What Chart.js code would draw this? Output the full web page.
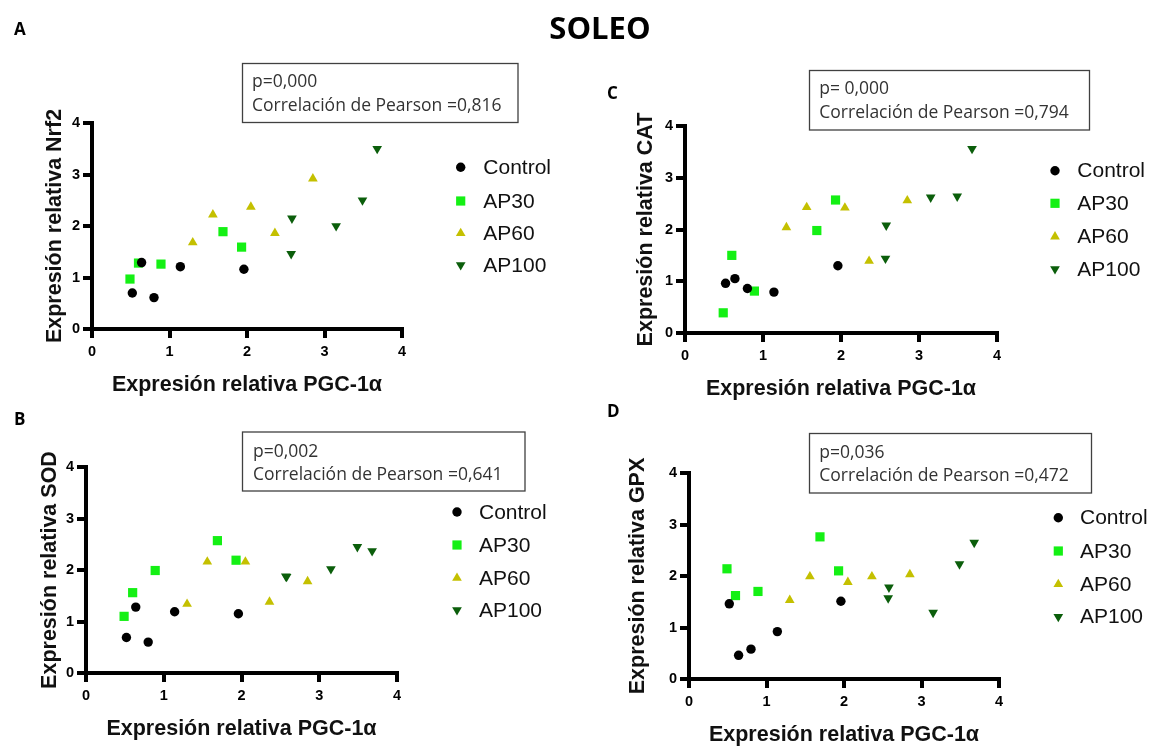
<!DOCTYPE html>
<html><head><meta charset="utf-8">
<script src="https://cdn.jsdelivr.net/npm/chart.js@4.4.1/dist/chart.umd.min.js"></script>
<style>
html,body{margin:0;padding:0;background:#fff;}
#page{position:relative;width:1152px;height:747px;overflow:hidden;background:#fff;}
canvas{position:absolute;}
svg{position:absolute;left:0;top:0;pointer-events:none;}
.box text{font-family:'Open Sans',sans-serif;font-size:17.5px;fill:#333;}
</style></head><body>
<div id="page">
<canvas id="cA"></canvas>
<canvas id="cB"></canvas>
<canvas id="cC"></canvas>
<canvas id="cD"></canvas>
<svg width="1152" height="747" xmlns="http://www.w3.org/2000/svg">
  <text x="600" y="39" text-anchor="middle" font-family="Open Sans" font-weight="700" font-size="31" fill="#000">SOLEO</text>
  <g font-family="Open Sans" font-weight="700" font-size="17" fill="#000">
    <text x="14" y="35">A</text>
    <text x="14" y="425">B</text>
    <text x="607" y="99">C</text>
    <text x="607" y="417">D</text>
  </g>
  <g class="box" fill="none" stroke="#404040" stroke-width="1.3">
    <rect x="242.5" y="63.5" width="275.5" height="59"/>
    <rect x="242.5" y="432" width="282.5" height="59"/>
    <rect x="809.5" y="70.5" width="280" height="59.5"/>
    <rect x="809.5" y="433.5" width="282" height="59.5"/>
  </g>
  <g class="box">
    <text x="252" y="87.3">p=0,000</text>
    <text x="252" y="111.3">Correlación de Pearson =0,816</text>
    <text x="253" y="456.5">p=0,002</text>
    <text x="253" y="479.5">Correlación de Pearson =0,641</text>
    <text x="819.3" y="94.3">p= 0,000</text>
    <text x="819.3" y="117.5">Correlación de Pearson =0,794</text>
    <text x="819.3" y="457.5">p=0,036</text>
    <text x="819.3" y="480.7">Correlación de Pearson =0,472</text>
  </g>
</svg>
</div>
<script>
// ---- data ----
const groups = ['Control', 'AP30', 'AP60', 'AP100'];
const xTicks = [0, 1, 2, 3, 4];
const yTicks = [0, 1, 2, 3, 4];
const xTitle = 'Expresión relativa PGC-1\u03B1';

// PGC-1α relative expression (x) per group
const pgcControl = [0.52, 0.64, 0.80, 1.14, 1.96];
const pgcAP30    = [0.49, 0.60, 0.89, 1.69, 1.93];
const pgcAP60    = [1.30, 1.56, 2.05, 2.36, 2.85];
const pgcAP100   = [2.58, 2.57, 3.15, 3.49, 3.68];

// A: Nrf2
const nrf2Control = [0.70, 1.29, 0.61, 1.21, 1.16];
const nrf2AP30    = [0.97, 1.28, 1.26, 1.89, 1.59];
const nrf2AP60    = [1.68, 2.22, 2.37, 1.86, 2.92];
const nrf2AP100   = [2.15, 1.46, 2.00, 2.50, 3.50];
// C: CAT
const catControl = [0.96, 1.05, 0.86, 0.79, 1.30];
const catAP30    = [0.39, 1.50, 0.81, 1.98, 2.57];
const catAP60    = [2.04, 2.43, 2.42, 1.39, 2.56];
const catAP100   = [2.08, 1.44, 2.62, 2.64, 3.56];
// B: SOD
const sodControl = [0.69, 1.28, 0.60, 1.19, 1.15];
const sodAP30    = [1.10, 1.56, 1.99, 2.57, 2.19];
const sodAP60    = [1.34, 2.16, 2.16, 1.38, 1.78];
const sodAP100   = [1.87, 1.88, 2.02, 2.45, 2.37];
// D: GPX
const gpxControl = [1.46, 0.46, 0.58, 0.92, 1.51];
const gpxAP30    = [2.14, 1.62, 1.70, 2.76, 2.10];
const gpxAP60    = [1.53, 1.99, 1.88, 1.99, 2.03];
const gpxAP100   = [1.78, 1.57, 1.29, 2.23, 2.65];

// ---- styles ----
const groupStyle = [
  {color: '#000000', pointStyle: 'circle',   radius: 4.7, rotation: 0},
  {color: '#14F014', pointStyle: 'rect',     radius: 6.5, rotation: 0},
  {color: '#C4C000', pointStyle: 'triangle', radius: 5.6, rotation: 0},
  {color: '#0B5E0B', pointStyle: 'triangle', radius: 5.6, rotation: 180}
];
const pgcX = [pgcControl, pgcAP30, pgcAP60, pgcAP100];

Chart.defaults.font.family = "'Liberation Sans', Arial, sans-serif";
Chart.defaults.color = '#000';

const legendPlugin = {
  id: 'customLegend',
  afterDraw(chart, args, opts) {
    const ctx = chart.ctx;
    ctx.save();
    chart.data.datasets.forEach((ds, i) => {
      const x = opts.mx - opts.ox, y = opts.rows[i] - opts.oy;
      ctx.fillStyle = ds.backgroundColor;
      ctx.strokeStyle = ds.backgroundColor;
      Chart.helpers.drawPoint(ctx, {pointStyle: ds.pointStyle, radius: ds.pointRadius, rotation: ds.pointRotation || 0, borderWidth: 0}, x, y);
      ctx.fillStyle = '#111';
      ctx.font = "21px 'Liberation Sans', Arial, sans-serif";
      ctx.textBaseline = 'middle';
      ctx.textAlign = 'left';
      ctx.fillText(ds.label, opts.tx - opts.ox, y + 1);
    });
    ctx.restore();
  }
};

const YW = 70, XH = 75, PT = 40, TFS = 21.5;

function makePanel(id, area, yTitle, yTitleX, ySeries, legend) {
  const cv = document.getElementById(id);
  const left = area.l - YW, top = area.t - PT;
  const width = Math.round(legend.tx + 80 - left);
  const height = area.b - top + XH;
  cv.width = width; cv.height = height;
  cv.style.left = left + 'px'; cv.style.top = top + 'px';
  cv.style.width = width + 'px'; cv.style.height = height + 'px';
  const half = TFS * 1.2 / 2;
  const datasets = groups.map((g, i) => ({
    label: g,
    data: pgcX[i].map((x, j) => ({x: x, y: ySeries[i][j]})),
    backgroundColor: groupStyle[i].color,
    borderColor: groupStyle[i].color,
    pointStyle: groupStyle[i].pointStyle,
    pointRadius: groupStyle[i].radius,
    pointRotation: groupStyle[i].rotation,
    pointBorderWidth: 0,
    pointHoverRadius: groupStyle[i].radius
  }));
  const axisCommon = {
    type: 'linear', min: 0, max: 4,
    border: {display: true, color: '#000', width: 4},
    grid: {display: true, drawOnChartArea: false, drawTicks: true, tickLength: 9, lineWidth: 4, color: '#000'}
  };
  return new Chart(cv, {
    type: 'scatter',
    data: {datasets},
    options: {
      responsive: false, animation: false, devicePixelRatio: 1,
      layout: {padding: {left: 0, top: PT, right: width - (area.r - left), bottom: 0}},
      plugins: {
        legend: {display: false}, tooltip: {enabled: false},
        customLegend: {mx: legend.mx, tx: legend.tx, rows: legend.rows, ox: left, oy: top}
      },
      scales: {
        x: Object.assign({}, axisCommon, {
          position: 'bottom',
          afterBuildTicks: s => { s.ticks = xTicks.map(v => ({value: v})); },
          ticks: {padding: 5, color: '#000', font: {size: 14.5, weight: 'bold'}},
          title: {display: true, text: xTitle, color: '#111', font: {size: TFS, weight: 'bold'}, padding: {top: 0, bottom: (XH - 56) - half}},
          afterFit: s => { s.height = XH; }
        }),
        y: Object.assign({}, axisCommon, {
          position: 'left',
          afterBuildTicks: s => { s.ticks = yTicks.map(v => ({value: v})); },
          ticks: {padding: 3, color: '#000', font: {size: 14.5, weight: 'bold'}},
          title: {display: true, text: yTitle, color: '#111', font: {size: TFS, weight: 'bold'}, padding: {top: yTitleX - left - half, bottom: 0}},
          afterFit: s => { s.width = YW; }
        })
      }
    },
    plugins: [legendPlugin]
  });
}

makePanel('cA', {l: 92, r: 402, t: 123, b: 329}, 'Expresión relativa Nrf2', 55,
  [nrf2Control, nrf2AP30, nrf2AP60, nrf2AP100],
  {mx: 460.7, tx: 483.3, rows: [167.3, 201, 233.3, 265]});
makePanel('cC', {l: 685, r: 997, t: 126, b: 333}, 'Expresión relativa CAT', 646,
  [catControl, catAP30, catAP60, catAP100],
  {mx: 1055, tx: 1077.3, rows: [170.7, 203.3, 236.7, 269]});
makePanel('cB', {l: 86, r: 397, t: 467, b: 673}, 'Expresión relativa SOD', 50,
  [sodControl, sodAP30, sodAP60, sodAP100],
  {mx: 457, tx: 479, rows: [512, 545, 578, 610]});
makePanel('cD', {l: 689, r: 999, t: 473, b: 679}, 'Expresión relativa GPX', 638,
  [gpxControl, gpxAP30, gpxAP60, gpxAP100],
  {mx: 1058.3, tx: 1080, rows: [517.7, 551, 584.3, 616.7]});
</script>
</body></html>
